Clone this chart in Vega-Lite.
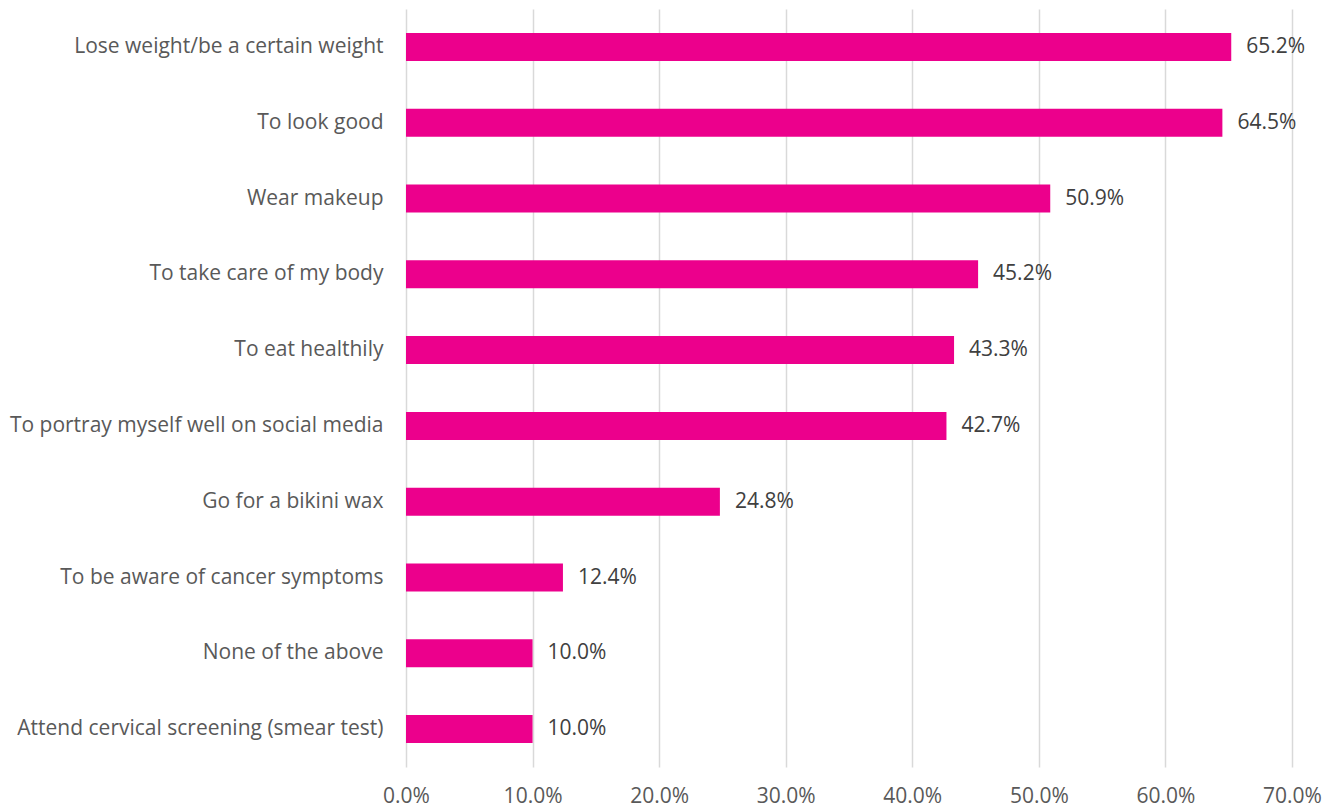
{
  "$schema": "https://vega.github.io/schema/vega-lite/v6.json",
  "autosize": {"type": "none"},
  "width": 886,
  "height": 758,
  "padding": {"left": 406, "top": 9, "right": 34, "bottom": 42},
  "background": "white",
  "config": {"view": {"stroke": null}, "font": "Open Sans"},
  "data": {"values": [
    {"label": "Lose weight/be a certain weight", "value": 0.652},
    {"label": "To look good", "value": 0.645},
    {"label": "Wear makeup", "value": 0.509},
    {"label": "To take care of my body", "value": 0.452},
    {"label": "To eat healthily", "value": 0.433},
    {"label": "To portray myself well on social media", "value": 0.427},
    {"label": "Go for a bikini wax", "value": 0.248},
    {"label": "To be aware of cancer symptoms", "value": 0.124},
    {"label": "None of the above", "value": 0.100},
    {"label": "Attend cervical screening (smear test)", "value": 0.100}
  ]},
  "encoding": {
    "y": {"field": "label", "type": "nominal", "sort": null,
      "scale": {"paddingInner": 0.63, "paddingOuter": 0.315},
      "axis": {"title": null, "domain": false, "ticks": false, "labelPadding": 23,
        "labelFontSize": 21, "labelColor": "#595959", "labelFont": "Open Sans", "labelLimit": 500}},
    "x": {"field": "value", "type": "quantitative",
      "scale": {"domain": [0, 0.7], "nice": false},
      "axis": {"title": null, "format": ".1%", "values": [0, 0.1, 0.2, 0.3, 0.4, 0.5, 0.6, 0.7],
        "domain": false, "ticks": false, "grid": true, "gridColor": "#D9D9D9", "gridWidth": 1.5,
        "labelPadding": 18, "labelFontSize": 21, "labelColor": "#595959", "labelFont": "Open Sans",
        "labelFlush": false}}
  },
  "layer": [
    {"mark": {"type": "bar", "color": "#EC008C"}},
    {"mark": {"type": "text", "align": "left", "dx": 15, "fontSize": 21, "color": "#404040", "font": "Open Sans"},
      "encoding": {"text": {"field": "value", "type": "quantitative", "format": ".1%"}}}
  ]
}
